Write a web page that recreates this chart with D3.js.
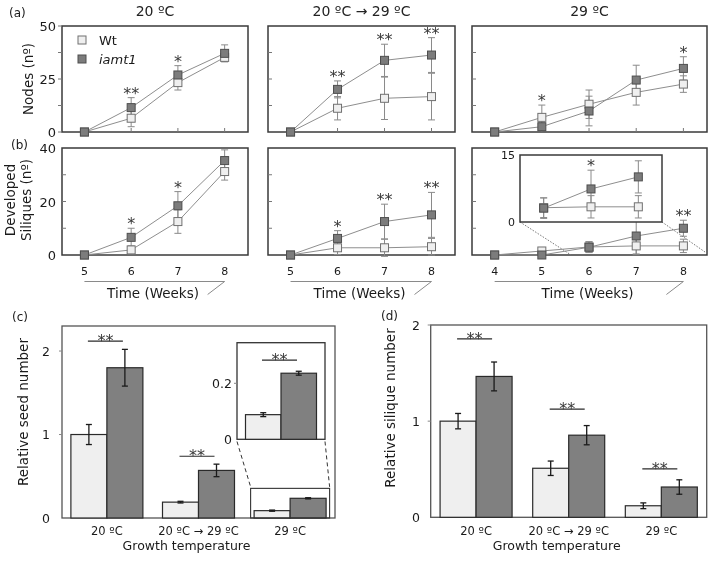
<!DOCTYPE html>
<html><head><meta charset="utf-8">
<script src="https://cdn.jsdelivr.net/npm/d3@7"></script>
<style>body{margin:0;background:#fff}svg{display:block;will-change:transform}text{font-family:"DejaVu Sans",Verdana,sans-serif;fill:#1a1a1a}</style>
</head><body><script>
// ================= DATA =================
const weeksEarly = [5, 6, 7, 8];
const weeksLate = [4, 5, 6, 7, 8];
const panelTitles = ["20 ºC", "20 ºC → 29 ºC", "29 ºC"];
const seriesNames = ["Wt", "iamt1"];

// (a) Nodes
const nodes20Wt = [0, 6.5, 23.3, 35.2],   nodes20WtErr = [0, 4, 3.5, 2];
const nodes20Mu = [0, 11.5, 26.9, 37.1],  nodes20MuErr = [0, 4.7, 4.4, 4];
const nodesShWt = [0, 11.2, 15.9, 16.7],  nodesShWtErr = [0, 5.5, 10, 11];
const nodesShMu = [0, 20.1, 33.8, 36.3],  nodesShMuErr = [0, 4, 7.6, 8.2];
const nodes29Wt = [0, 6.9, 13.1, 18.7, 22.6], nodes29WtErr = [0, 5.8, 6.7, 6, 3.9];
const nodes29Mu = [0, 2.5, 9.9, 24.5, 30],    nodes29MuErr = [0, 1.5, 7, 7, 5.5];
const nodesStars20 = [[6, "**"], [7, "*"]];
const nodesStarsSh = [[6, "**"], [7, "**"], [8, "**"]];
const nodesStars29 = [[5, "*"], [8, "*"]];
const nodesTickLabels = [0, 25, 50];
const nodesMinorTicks = [12.5, 25, 37.5];

// (b) Developed siliques
const sil20Wt = [0, 1.9, 12.5, 31.2],  sil20WtErr = [0, 1.5, 4.4, 3.2];
const sil20Mu = [0, 6.6, 18.4, 35.3],  sil20MuErr = [0, 3.4, 5.3, 4];
const silShWt = [0, 2.7, 2.7, 3.1],    silShWtErr = [0, 2.5, 3.2, 3.1];
const silShMu = [0, 6.2, 12.5, 15],    silShMuErr = [0, 2.9, 6.5, 8.4];
const sil29Wt = [0, 1.5, 3.0, 3.4, 3.4], sil29WtErr = [0, 0.8, 2, 3, 2.5];
const sil29Mu = [0, 0, 2.9, 7.1, 10],    sil29MuErr = [0, 0, 2, 7, 3];
const silStars20 = [[6, "*"], [7, "*"]];
const silStarsSh = [[6, "*"], [7, "**"], [8, "**"]];
const silStars29 = [[8, "**"]];
const silTickLabels = [0, 20, 40];
const silMinorTicks = [10, 20, 30];
// (b) inset, 29 ºC zoom
const insetWeeks = [6, 7, 8];
const insetWt = [3.2, 3.4, 3.4], insetWtErr = [2.2, 2.5, 2.5];
const insetMu = [3.1, 7.4, 10.1], insetMuErr = [2.3, 4.2, 3.6];
const insetStars = [[7, "*"]];
const insetTickLabels = [0, 15];

// (c) Relative seed number
const groups = ["20 ºC", "20 ºC → 29 ºC", "29 ºC"];
const seedWt = [1.0, 0.19, 0.088], seedWtErr = [0.12, 0.01, 0.007];
const seedMu = [1.8, 0.57, 0.236], seedMuErr = [0.22, 0.075, 0.007];
const seedBrackets = [[0, 2.12], [1, 0.74]];
const seedInsetBracket = [[2, 0.283]];
const seedTicks = [0, 1, 2];
const seedInsetTicks = [0, 0.2];
// (d) Relative silique number
const siliqWt = [1.0, 0.51, 0.12], siliqWtErr = [0.08, 0.075, 0.03];
const siliqMu = [1.465, 0.854, 0.315], siliqMuErr = [0.15, 0.1, 0.075];
const siliqBrackets = [[0, 1.855], [1, 1.125], [2, 0.503]];
const siliqTicks = [0, 1, 2];

// ================= DRAWING =================
const svg = d3.select("body").append("svg").attr("width", 709).attr("height", 561);
const C = {wtFill: "#efefef", wtStroke: "#707070", muFill: "#7c7c7c", muStroke: "#4e4e4e",
           line: "#8e8e8e", err: "#8a8a8a", frame: "#3a3a3a"};
const STAR_FS = 16;

function drawSeries(g, x, y, weeks, vals) {
  g.append("path").datum(vals)
    .attr("d", d3.line().x((d, i) => x(weeks[i])).y(d => y(d)))
    .attr("fill", "none").attr("stroke", C.line).attr("stroke-width", 1);
}
function drawErr(g, x, y, weeks, vals, errs) {
  vals.forEach((v, i) => {
    if (!errs[i]) return;
    const cx = x(weeks[i]), t = y(v + errs[i]), b = y(v - errs[i]);
    g.append("line").attr("x1", cx).attr("x2", cx).attr("y1", t).attr("y2", b);
    g.append("line").attr("x1", cx - 3.5).attr("x2", cx + 3.5).attr("y1", t).attr("y2", t);
    g.append("line").attr("x1", cx - 3.5).attr("x2", cx + 3.5).attr("y1", b).attr("y2", b);
  });
  g.selectAll("line").attr("stroke", C.err).attr("stroke-width", 1);
}
function drawMarkers(g, x, y, weeks, vals, fill, stroke) {
  vals.forEach((v, i) => {
    g.append("rect").attr("x", x(weeks[i]) - 4).attr("y", y(v) - 4)
      .attr("width", 8).attr("height", 8).attr("fill", fill).attr("stroke", stroke).attr("stroke-width", 1);
  });
}
function drawStars(g, x, y, weeks, stars, wt, wtE, mu, muE) {
  stars.forEach(([w, s]) => {
    const i = weeks.indexOf(w);
    const top = Math.max(wt[i] + wtE[i], mu[i] + muE[i]);
    g.append("text").attr("x", x(w)).attr("y", y(top) + 1).attr("text-anchor", "middle")
      .attr("font-size", STAR_FS).style("fill", "#3a3a3a").text(s);
  });
}

function linePanel(cfg) {
  const g = svg.append("g");
  const n = cfg.weeks.length;
  const x = d3.scaleLinear().domain([cfg.weeks[0] - 0.48, cfg.weeks[n - 1] + 0.5]).range([cfg.x0, cfg.x1]);
  const y = d3.scaleLinear().domain([0, cfg.yMax]).range([cfg.y1, cfg.y0]);
  g.append("rect").attr("x", cfg.x0).attr("y", cfg.y0).attr("width", cfg.x1 - cfg.x0).attr("height", cfg.y1 - cfg.y0)
    .attr("fill", "#fff").attr("stroke", C.frame).attr("stroke-width", 1.5);
  const tg = g.append("g").attr("stroke", "#777").attr("stroke-width", 1);
  cfg.minor.forEach(v => tg.append("line").attr("x1", cfg.x0).attr("x2", cfg.x0 + cfg.tickDir * 4)
    .attr("y1", y(v)).attr("y2", y(v)));
  if (cfg.xTicksInside) cfg.weeks.slice(1).forEach(w => tg.append("line").attr("x1", x(w)).attr("x2", x(w))
    .attr("y1", cfg.y1).attr("y2", cfg.y1 - 4));
  if (cfg.yLabels) cfg.yLabels.forEach(v => g.append("text").attr("x", cfg.x0 - 6).attr("y", y(v) + 5)
    .attr("text-anchor", "end").attr("font-size", 13).text(v));
  if (cfg.xLabels) {
    cfg.weeks.forEach(w => g.append("text").attr("x", x(w)).attr("y", 275).attr("text-anchor", "middle")
      .attr("font-size", 11).text(w));
    const xa = x(cfg.weeks[0]), xb = x(cfg.weeks[n - 1]);
    g.append("path").attr("d", `M${xa},281.5H${xb}L${xb - 17},294.5`).attr("fill", "none")
      .attr("stroke", "#8a8a8a").attr("stroke-width", 1);
    g.append("text").attr("x", (xa + xb) / 2 - 1.5).attr("y", 297.5).attr("text-anchor", "middle")
      .attr("font-size", 13.5).text("Time (Weeks)");
  }
  drawSeries(g, x, y, cfg.weeks, cfg.wt);
  drawSeries(g, x, y, cfg.weeks, cfg.mu);
  drawErr(g.append("g"), x, y, cfg.weeks, cfg.wt, cfg.wtE);
  drawErr(g.append("g"), x, y, cfg.weeks, cfg.mu, cfg.muE);
  drawMarkers(g, x, y, cfg.weeks, cfg.wt, C.wtFill, C.wtStroke);
  drawMarkers(g, x, y, cfg.weeks, cfg.mu, C.muFill, C.muStroke);
  drawStars(g, x, y, cfg.weeks, cfg.stars, cfg.wt, cfg.wtE, cfg.mu, cfg.muE);
  return {g, x, y};
}

const cols = [[62, 248], [268, 455], [472, 707]];
const rowA = [26, 132], rowB = [148, 255];
const aData = [
  [weeksEarly, nodes20Wt, nodes20WtErr, nodes20Mu, nodes20MuErr, nodesStars20],
  [weeksEarly, nodesShWt, nodesShWtErr, nodesShMu, nodesShMuErr, nodesStarsSh],
  [weeksLate, nodes29Wt, nodes29WtErr, nodes29Mu, nodes29MuErr, nodesStars29]];
const bData = [
  [weeksEarly, sil20Wt, sil20WtErr, sil20Mu, sil20MuErr, silStars20],
  [weeksEarly, silShWt, silShWtErr, silShMu, silShMuErr, silStarsSh],
  [weeksLate, sil29Wt, sil29WtErr, sil29Mu, sil29MuErr, silStars29]];

aData.forEach((d, k) => {
  linePanel({x0: cols[k][0], x1: cols[k][1], y0: rowA[0], y1: rowA[1], yMax: 50,
    weeks: d[0], wt: d[1], wtE: d[2], mu: d[3], muE: d[4], stars: d[5],
    minor: k === 0 ? [0, 12.5, 25, 37.5, 50] : nodesMinorTicks, tickDir: k === 0 ? -1 : 1,
    xTicksInside: true, yLabels: k === 0 ? nodesTickLabels : null});
  svg.append("text").attr("x", (cols[k][0] + cols[k][1]) / 2).attr("y", 16).attr("text-anchor", "middle")
    .attr("font-size", 14).style("fill", "#222").text(panelTitles[k]);
});
let b3;
bData.forEach((d, k) => {
  const p = linePanel({x0: cols[k][0], x1: cols[k][1], y0: rowB[0], y1: rowB[1], yMax: 40,
    weeks: d[0], wt: d[1], wtE: d[2], mu: d[3], muE: d[4], stars: d[5],
    minor: silMinorTicks, tickDir: 1, xTicksInside: false, yLabels: k === 0 ? silTickLabels : null, xLabels: true});
  if (k === 2) b3 = p;
});

// inset in (b) 29 ºC
(function () {
  const bx0 = 520, bx1 = 662, by0 = 155, by1 = 222;
  const g = svg.append("g");
  g.append("line").attr("x1", bx0).attr("y1", by1).attr("x2", b3.x(5.62)).attr("y2", b3.y(0))
    .attr("stroke", "#777").attr("stroke-dasharray", "1.5,1.5");
  g.append("line").attr("x1", bx1).attr("y1", by1).attr("x2", cols[2][1]).attr("y2", b3.y(0.6))
    .attr("stroke", "#777").attr("stroke-dasharray", "1.5,1.5");
  g.append("rect").attr("x", bx0).attr("y", by0).attr("width", bx1 - bx0).attr("height", by1 - by0)
    .attr("fill", "#fff").attr("stroke", C.frame).attr("stroke-width", 1.5);
  const x = d3.scaleLinear().domain([5.5, 8.5]).range([bx0, bx1]);
  const y = d3.scaleLinear().domain([0, 15]).range([by1, by0]);
  insetTickLabels.forEach(v => g.append("text").attr("x", bx0 - 5).attr("y", y(v) + 4)
    .attr("text-anchor", "end").attr("font-size", 11).text(v));
  drawSeries(g, x, y, insetWeeks, insetWt);
  drawSeries(g, x, y, insetWeeks, insetMu);
  drawErr(g.append("g"), x, y, insetWeeks, insetWt, insetWtErr);
  drawErr(g.append("g"), x, y, insetWeeks, insetMu, insetMuErr);
  drawMarkers(g, x, y, insetWeeks, insetWt, C.wtFill, C.wtStroke);
  drawMarkers(g, x, y, insetWeeks, insetMu, C.muFill, C.muStroke);
  drawStars(g, x, y, insetWeeks, insetStars, insetWt, insetWtErr, insetMu, insetMuErr);
})();

// legend
[[seriesNames[0], C.wtFill, C.wtStroke, 40, "normal"], [seriesNames[1], C.muFill, C.muStroke, 59, "italic"]]
  .forEach(([t, f, s, yy, st]) => {
    svg.append("rect").attr("x", 78).attr("y", yy - 4).attr("width", 8).attr("height", 8)
      .attr("fill", f).attr("stroke", s);
    svg.append("text").attr("x", 99).attr("y", yy + 5).attr("font-size", 13).attr("font-style", st).text(t);
  });

// row labels and y titles
svg.append("text").attr("x", 9).attr("y", 17).attr("font-family", "Liberation Sans, Arial").attr("font-size", 12).text("(a)");
svg.append("text").attr("x", 11).attr("y", 149).attr("font-family", "Liberation Sans, Arial").attr("font-size", 12).text("(b)");
svg.append("text").attr("transform", "translate(33,79) rotate(-90)").attr("text-anchor", "middle")
  .attr("font-size", 13.5).text("Nodes (nº)");
svg.append("text").attr("transform", "translate(15,200) rotate(-90)").attr("text-anchor", "middle")
  .attr("font-size", 13.5).text("Developed");
svg.append("text").attr("transform", "translate(31,200) rotate(-90)").attr("text-anchor", "middle")
  .attr("font-size", 13.5).text("Siliques (nº)");

// ================= BAR PANELS =================
function barPanel(cfg) {
  const g = svg.append("g");
  const x = d3.scalePoint().domain(d3.range(cfg.groups.length)).range([cfg.x0, cfg.x1]).padding(cfg.pad);
  const y = d3.scaleLinear().domain([0, cfg.yMax]).range([cfg.y1, cfg.y0]);
  const bw = cfg.bw;
  g.append("rect").attr("x", cfg.x0).attr("y", cfg.y0).attr("width", cfg.x1 - cfg.x0).attr("height", cfg.y1 - cfg.y0)
    .attr("fill", "#fff").attr("stroke", cfg.frameColor || "#555").attr("stroke-width", 1.3);
  cfg.ticks.forEach(v => {
    g.append("text").attr("x", cfg.labelX).attr("y", y(v) + 4.5).attr("text-anchor", "end")
      .attr("font-size", cfg.tickFs || 12.5).text(v);
    if (v) g.append("line").attr("x1", cfg.x0).attr("x2", cfg.x0 - 3).attr("y1", y(v)).attr("y2", y(v)).attr("stroke", "#888");
  });
  cfg.idx.forEach(i => {
    const cx = x(cfg.xKey ? cfg.xKey[i] : i);
    [[cfg.wt[i], cfg.wtE[i], cx - bw, C.wtFill], [cfg.mu[i], cfg.muE[i], cx, "#808080"]].forEach(([v, e, bx, f]) => {
      g.append("rect").attr("x", bx).attr("y", y(v)).attr("width", bw).attr("height", y(0) - y(v))
        .attr("fill", f).attr("stroke", "#2a2a2a").attr("stroke-width", 1.2);
      const ex = bx + bw / 2;
      const eg = g.append("g").attr("stroke", "#1a1a1a").attr("stroke-width", 1.3);
      eg.append("line").attr("x1", ex).attr("x2", ex).attr("y1", y(v + e)).attr("y2", y(v - e));
      eg.append("line").attr("x1", ex - 3).attr("x2", ex + 3).attr("y1", y(v + e)).attr("y2", y(v + e));
      eg.append("line").attr("x1", ex - 3).attr("x2", ex + 3).attr("y1", y(v - e)).attr("y2", y(v - e));
    });
  });
  cfg.brackets.forEach(([i, lev]) => {
    const cx = x(cfg.xKey ? cfg.xKey[i] : i) - 1.5;
    g.append("line").attr("x1", cx - 17.5).attr("x2", cx + 17.5).attr("y1", y(lev)).attr("y2", y(lev))
      .attr("stroke", "#2a2a2a").attr("stroke-width", 1.2);
    g.append("text").attr("x", cx).attr("y", y(lev) + 5).attr("text-anchor", "middle")
      .attr("font-size", STAR_FS).style("fill", "#3a3a3a").text("**");
  });
  if (cfg.xLabels) {
    cfg.groups.forEach((t, i) => g.append("text").attr("x", x(i)).attr("y", 535).attr("text-anchor", "middle")
      .attr("font-size", 11.5).text(t));
    g.append("text").attr("x", x(1) - 12).attr("y", 550).attr("text-anchor", "middle")
      .attr("font-size", 12.5).text("Growth temperature");
  }
  return {x, y};
}

const c = barPanel({x0: 62, x1: 335, y0: 326, y1: 518, yMax: 2.3, pad: 0.49, bw: 36, groups,
  wt: seedWt, wtE: seedWtErr, mu: seedMu, muE: seedMuErr, idx: [0, 1, 2], brackets: seedBrackets,
  ticks: seedTicks.slice(), labelX: 50, xLabels: true});
// zoom box around 29 ºC group + dashed connectors
const zx0 = c.x(2) - 39.5, zx1 = c.x(2) + 39.5;
svg.append("rect").attr("x", zx0).attr("y", c.y(0.355)).attr("width", zx1 - zx0).attr("height", c.y(0) - c.y(0.355))
  .attr("fill", "none").attr("stroke", "#333").attr("stroke-width", 1.1);
svg.append("line").attr("x1", 237).attr("y1", 441.5).attr("x2", zx0).attr("y2", c.y(0.355) - 1.5)
  .attr("stroke", "#333").attr("stroke-dasharray", "4,3");
svg.append("line").attr("x1", 325).attr("y1", 441.5).attr("x2", zx1).attr("y2", c.y(0.355) - 1.5)
  .attr("stroke", "#333").attr("stroke-dasharray", "4,3");
// inset (c)
barPanel({x0: 237, x1: 325, y0: 342.7, y1: 439.3, yMax: 0.345, pad: 0.5, bw: 35.5, groups: [groups[2]],
  xKey: [null, null, 0], wt: seedWt, wtE: seedWtErr, mu: seedMu, muE: seedMuErr, idx: [2],
  brackets: seedInsetBracket, ticks: seedInsetTicks, labelX: 232, frameColor: "#333", tickFs: 12.5});

barPanel({x0: 430.7, x1: 706.7, y0: 325, y1: 517.3, yMax: 2, pad: 0.49, bw: 36, groups,
  wt: siliqWt, wtE: siliqWtErr, mu: siliqMu, muE: siliqMuErr, idx: [0, 1, 2], brackets: siliqBrackets,
  ticks: siliqTicks, labelX: 420, xLabels: true});

svg.append("text").attr("x", 12).attr("y", 321).attr("font-family", "Liberation Sans, Arial").attr("font-size", 12).text("(c)");
svg.append("text").attr("x", 381).attr("y", 320).attr("font-family", "Liberation Sans, Arial").attr("font-size", 12).text("(d)");
svg.append("text").attr("transform", "translate(28,412) rotate(-90)").attr("text-anchor", "middle")
  .attr("font-size", 13.5).text("Relative seed number");
svg.append("text").attr("transform", "translate(395,408) rotate(-90)").attr("text-anchor", "middle")
  .attr("font-size", 13.5).text("Relative silique number");
</script></body></html>
